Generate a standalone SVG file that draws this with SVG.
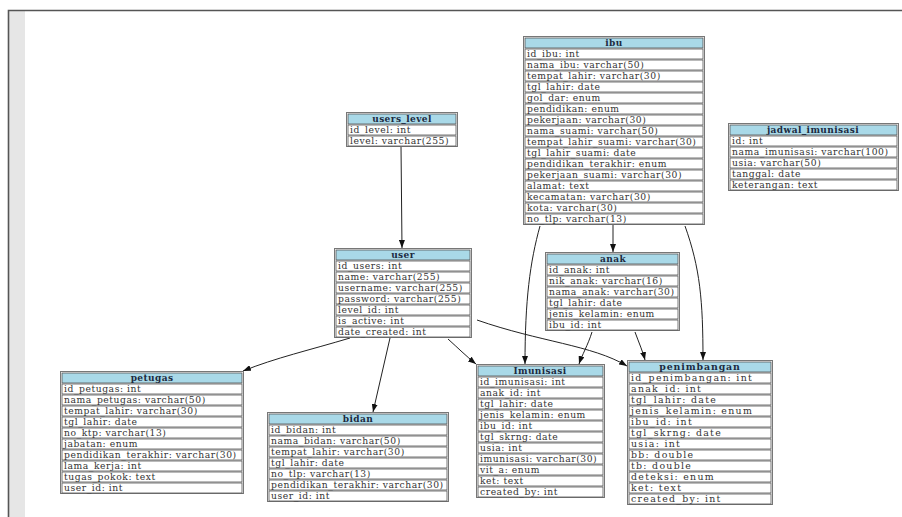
<svg xmlns="http://www.w3.org/2000/svg" width="902" height="517" viewBox="0 0 902 517">
<style>
.cell{fill:#fff;stroke:#555;stroke-width:0.8}
.hd{fill:#a9d9e8;stroke:#555;stroke-width:0.8}
.outer{fill:none;stroke:#777;stroke-width:1}
.t{font-family:"DejaVu Serif","Liberation Serif",serif;font-size:9.2px;letter-spacing:0.55px;fill:#333}
.h{font-family:"DejaVu Serif","Liberation Serif",serif;font-size:9px;letter-spacing:0.4px;font-weight:bold;fill:#1c2a40;text-anchor:middle}
.big .t{font-size:9.4px;letter-spacing:1.3px}
.big .h{font-size:9.4px;letter-spacing:0.9px}
.c{fill:none;stroke:#222;stroke-width:1}
</style>
<defs>
<marker id="ah" markerWidth="8" markerHeight="6" refX="8" refY="3" orient="auto" markerUnits="userSpaceOnUse">
<path d="M0,0 L8,3 L0,6 z" fill="#111"/>
</marker>
</defs>
<rect x="0" y="0" width="902" height="517" fill="#fff"/>
<rect x="9" y="11" width="16" height="506" fill="#e6e6e6"/>
<path d="M8.5,517 V10.5 H902" fill="none" stroke="#555" stroke-width="1.6"/>

<g id="connectors">
<path class="c" d="M401,146 L402,248" marker-end="url(#ah)"/>
<path class="c" d="M613,224 L613,252" marker-end="url(#ah)"/>
<path class="c" d="M540,226 C530,262 525,300 525,364" marker-end="url(#ah)"/>
<path class="c" d="M685,226 C700,268 703,300 703,360" marker-end="url(#ah)"/>
<path class="c" d="M592,332 C588,345 582,355 579,364" marker-end="url(#ah)"/>
<path class="c" d="M635,332 C639,343 643,352 645,360" marker-end="url(#ah)"/>
<path class="c" d="M448,339 C458,348 466,356 476,364" marker-end="url(#ah)"/>
<path class="c" d="M477,320 C540,342 592,345 627,366" marker-end="url(#ah)"/>
<path class="c" d="M390,338 L373,412" marker-end="url(#ah)"/>
<path class="c" d="M350,338 C310,350 275,358 243,371" marker-end="url(#ah)"/>
</g>

<g id="ibu">
<rect class="outer" x="523.5" y="36.5" width="181" height="188"/>
<rect class="hd" x="525" y="38" width="178" height="10"/>
<text class="h" x="614" y="46.3">ibu</text>
<rect class="cell" x="525" y="49" width="178" height="10"/><text class="t" x="527" y="57.3">id_ibu: int</text>
<rect class="cell" x="525" y="60" width="178" height="10"/><text class="t" x="527" y="68.3">nama_ibu: varchar(50)</text>
<rect class="cell" x="525" y="71" width="178" height="10"/><text class="t" x="527" y="79.3">tempat_lahir: varchar(30)</text>
<rect class="cell" x="525" y="82" width="178" height="10"/><text class="t" x="527" y="90.3">tgl_lahir: date</text>
<rect class="cell" x="525" y="93" width="178" height="10"/><text class="t" x="527" y="101.3">gol_dar: enum</text>
<rect class="cell" x="525" y="104" width="178" height="10"/><text class="t" x="527" y="112.3">pendidikan: enum</text>
<rect class="cell" x="525" y="115" width="178" height="10"/><text class="t" x="527" y="123.3">pekerjaan: varchar(30)</text>
<rect class="cell" x="525" y="126" width="178" height="10"/><text class="t" x="527" y="134.3">nama_suami: varchar(50)</text>
<rect class="cell" x="525" y="137" width="178" height="10"/><text class="t" x="527" y="145.3">tempat_lahir_suami: varchar(30)</text>
<rect class="cell" x="525" y="148" width="178" height="10"/><text class="t" x="527" y="156.3">tgl_lahir_suami: date</text>
<rect class="cell" x="525" y="159" width="178" height="10"/><text class="t" x="527" y="167.3">pendidikan_terakhir: enum</text>
<rect class="cell" x="525" y="170" width="178" height="10"/><text class="t" x="527" y="178.3">pekerjaan_suami: varchar(30)</text>
<rect class="cell" x="525" y="181" width="178" height="10"/><text class="t" x="527" y="189.3">alamat: text</text>
<rect class="cell" x="525" y="192" width="178" height="10"/><text class="t" x="527" y="200.3">kecamatan: varchar(30)</text>
<rect class="cell" x="525" y="203" width="178" height="10"/><text class="t" x="527" y="211.3">kota: varchar(30)</text>
<rect class="cell" x="525" y="214" width="178" height="10"/><text class="t" x="527" y="222.3">no_tlp: varchar(13)</text>
</g>

<g id="users_level">
<rect class="outer" x="346.5" y="112.5" width="111" height="34"/>
<rect class="hd" x="348" y="114" width="108" height="10"/>
<text class="h" x="402" y="122.3">users_level</text>
<rect class="cell" x="348" y="125" width="108" height="10"/><text class="t" x="350" y="133.3">id_level: int</text>
<rect class="cell" x="348" y="136" width="108" height="10"/><text class="t" x="350" y="144.3">level: varchar(255)</text>
</g>

<g id="jadwal_imunisasi">
<rect class="outer" x="728.5" y="123.5" width="170" height="67"/>
<rect class="hd" x="730" y="125" width="167" height="10"/>
<text class="h" x="813" y="133.3">jadwal_imunisasi</text>
<rect class="cell" x="730" y="136" width="167" height="10"/><text class="t" x="732" y="144.3">id: int</text>
<rect class="cell" x="730" y="147" width="167" height="10"/><text class="t" x="732" y="155.3">nama_imunisasi: varchar(100)</text>
<rect class="cell" x="730" y="158" width="167" height="10"/><text class="t" x="732" y="166.3">usia: varchar(50)</text>
<rect class="cell" x="730" y="169" width="167" height="10"/><text class="t" x="732" y="177.3">tanggal: date</text>
<rect class="cell" x="730" y="180" width="167" height="10"/><text class="t" x="732" y="188.3">keterangan: text</text>
</g>

<g id="user">
<rect class="outer" x="334.5" y="248.5" width="137" height="89"/>
<rect class="hd" x="336" y="250" width="134" height="10"/>
<text class="h" x="403" y="258.3">user</text>
<rect class="cell" x="336" y="261" width="134" height="10"/><text class="t" x="338" y="269.3">id_users: int</text>
<rect class="cell" x="336" y="272" width="134" height="10"/><text class="t" x="338" y="280.3">name: varchar(255)</text>
<rect class="cell" x="336" y="283" width="134" height="10"/><text class="t" x="338" y="291.3">username: varchar(255)</text>
<rect class="cell" x="336" y="294" width="134" height="10"/><text class="t" x="338" y="302.3">password: varchar(255)</text>
<rect class="cell" x="336" y="305" width="134" height="10"/><text class="t" x="338" y="313.3">level_id: int</text>
<rect class="cell" x="336" y="316" width="134" height="10"/><text class="t" x="338" y="324.3">is_active: int</text>
<rect class="cell" x="336" y="327" width="134" height="10"/><text class="t" x="338" y="335.3">date_created: int</text>
</g>

<g id="anak">
<rect class="outer" x="545.5" y="252.5" width="134" height="78"/>
<rect class="hd" x="547" y="254" width="131" height="10"/>
<text class="h" x="613" y="262.3">anak</text>
<rect class="cell" x="547" y="265" width="131" height="10"/><text class="t" x="549" y="273.3">id_anak: int</text>
<rect class="cell" x="547" y="276" width="131" height="10"/><text class="t" x="549" y="284.3">nik_anak: varchar(16)</text>
<rect class="cell" x="547" y="287" width="131" height="10"/><text class="t" x="549" y="295.3">nama_anak: varchar(30)</text>
<rect class="cell" x="547" y="298" width="131" height="10"/><text class="t" x="549" y="306.3">tgl_lahir: date</text>
<rect class="cell" x="547" y="309" width="131" height="10"/><text class="t" x="549" y="317.3">jenis_kelamin: enum</text>
<rect class="cell" x="547" y="320" width="131" height="10"/><text class="t" x="549" y="328.3">ibu_id: int</text>
</g>

<g id="petugas">
<rect class="outer" x="60.5" y="371.5" width="183" height="122"/>
<rect class="hd" x="62" y="373" width="180" height="10"/>
<text class="h" x="152" y="381.3">petugas</text>
<rect class="cell" x="62" y="384" width="180" height="10"/><text class="t" x="64" y="392.3">id_petugas: int</text>
<rect class="cell" x="62" y="395" width="180" height="10"/><text class="t" x="64" y="403.3">nama_petugas: varchar(50)</text>
<rect class="cell" x="62" y="406" width="180" height="10"/><text class="t" x="64" y="414.3">tempat_lahir: varchar(30)</text>
<rect class="cell" x="62" y="417" width="180" height="10"/><text class="t" x="64" y="425.3">tgl_lahir: date</text>
<rect class="cell" x="62" y="428" width="180" height="10"/><text class="t" x="64" y="436.3">no_ktp: varchar(13)</text>
<rect class="cell" x="62" y="439" width="180" height="10"/><text class="t" x="64" y="447.3">jabatan: enum</text>
<rect class="cell" x="62" y="450" width="180" height="10"/><text class="t" x="64" y="458.3">pendidikan_terakhir: varchar(30)</text>
<rect class="cell" x="62" y="461" width="180" height="10"/><text class="t" x="64" y="469.3">lama_kerja: int</text>
<rect class="cell" x="62" y="472" width="180" height="10"/><text class="t" x="64" y="480.3">tugas_pokok: text</text>
<rect class="cell" x="62" y="483" width="180" height="10"/><text class="t" x="64" y="491.3">user_id: int</text>
</g>

<g id="bidan">
<rect class="outer" x="267.5" y="412.5" width="181" height="89"/>
<rect class="hd" x="269" y="414" width="178" height="10"/>
<text class="h" x="358" y="422.3">bidan</text>
<rect class="cell" x="269" y="425" width="178" height="10"/><text class="t" x="271" y="433.3">id_bidan: int</text>
<rect class="cell" x="269" y="436" width="178" height="10"/><text class="t" x="271" y="444.3">nama_bidan: varchar(50)</text>
<rect class="cell" x="269" y="447" width="178" height="10"/><text class="t" x="271" y="455.3">tempat_lahir: varchar(30)</text>
<rect class="cell" x="269" y="458" width="178" height="10"/><text class="t" x="271" y="466.3">tgl_lahir: date</text>
<rect class="cell" x="269" y="469" width="178" height="10"/><text class="t" x="271" y="477.3">no_tlp: varchar(13)</text>
<rect class="cell" x="269" y="480" width="178" height="10"/><text class="t" x="271" y="488.3">pendidikan_terakhir: varchar(30)</text>
<rect class="cell" x="269" y="491" width="178" height="10"/><text class="t" x="271" y="499.3">user_id: int</text>
</g>

<g id="imunisasi">
<rect class="outer" x="476.5" y="364.5" width="128" height="133"/>
<rect class="hd" x="478" y="366" width="125" height="10"/>
<text class="h" x="540" y="374.3">Imunisasi</text>
<rect class="cell" x="478" y="377" width="125" height="10"/><text class="t" x="480" y="385.3">id_imunisasi: int</text>
<rect class="cell" x="478" y="388" width="125" height="10"/><text class="t" x="480" y="396.3">anak_id: int</text>
<rect class="cell" x="478" y="399" width="125" height="10"/><text class="t" x="480" y="407.3">tgl_lahir: date</text>
<rect class="cell" x="478" y="410" width="125" height="10"/><text class="t" x="480" y="418.3">jenis_kelamin: enum</text>
<rect class="cell" x="478" y="421" width="125" height="10"/><text class="t" x="480" y="429.3">ibu_id: int</text>
<rect class="cell" x="478" y="432" width="125" height="10"/><text class="t" x="480" y="440.3">tgl_skrng: date</text>
<rect class="cell" x="478" y="443" width="125" height="10"/><text class="t" x="480" y="451.3">usia: int</text>
<rect class="cell" x="478" y="454" width="125" height="10"/><text class="t" x="480" y="462.3">imunisasi: varchar(30)</text>
<rect class="cell" x="478" y="465" width="125" height="10"/><text class="t" x="480" y="473.3">vit_a: enum</text>
<rect class="cell" x="478" y="476" width="125" height="10"/><text class="t" x="480" y="484.3">ket: text</text>
<rect class="cell" x="478" y="487" width="125" height="10"/><text class="t" x="480" y="495.3">created_by: int</text>
</g>

<g id="penimbangan" class="big">
<rect class="outer" x="627.5" y="360.5" width="145" height="144"/>
<rect class="hd" x="629" y="362" width="142" height="10"/>
<text class="h" x="700" y="370.3">penimbangan</text>
<rect class="cell" x="629" y="373" width="142" height="10"/><text class="t" x="631" y="381.3">id_penimbangan: int</text>
<rect class="cell" x="629" y="384" width="142" height="10"/><text class="t" x="631" y="392.3">anak_id: int</text>
<rect class="cell" x="629" y="395" width="142" height="10"/><text class="t" x="631" y="403.3">tgl_lahir: date</text>
<rect class="cell" x="629" y="406" width="142" height="10"/><text class="t" x="631" y="414.3">jenis_kelamin: enum</text>
<rect class="cell" x="629" y="417" width="142" height="10"/><text class="t" x="631" y="425.3">ibu_id: int</text>
<rect class="cell" x="629" y="428" width="142" height="10"/><text class="t" x="631" y="436.3">tgl_skrng: date</text>
<rect class="cell" x="629" y="439" width="142" height="10"/><text class="t" x="631" y="447.3">usia: int</text>
<rect class="cell" x="629" y="450" width="142" height="10"/><text class="t" x="631" y="458.3">bb: double</text>
<rect class="cell" x="629" y="461" width="142" height="10"/><text class="t" x="631" y="469.3">tb: double</text>
<rect class="cell" x="629" y="472" width="142" height="10"/><text class="t" x="631" y="480.3">deteksi: enum</text>
<rect class="cell" x="629" y="483" width="142" height="10"/><text class="t" x="631" y="491.3">ket: text</text>
<rect class="cell" x="629" y="494" width="142" height="10"/><text class="t" x="631" y="502.3">created_by: int</text>
</g>
</svg>
